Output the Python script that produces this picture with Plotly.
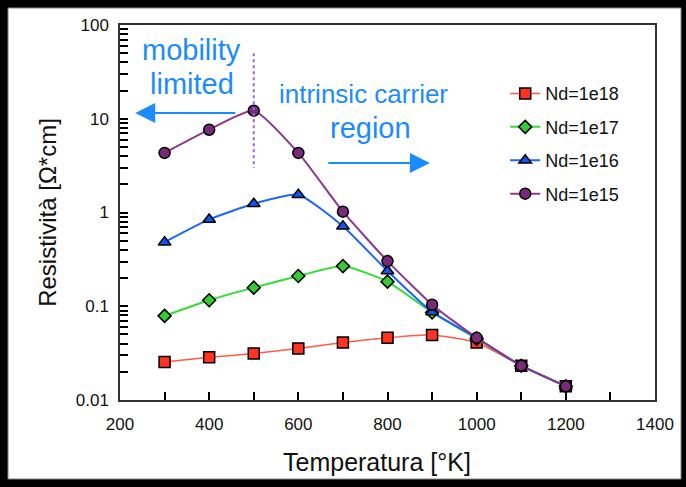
import math
import plotly.graph_objects as go

# Temperature (K) and resistivity (Ohm*cm) for four donor concentrations
temperature = [300, 400, 500, 600, 700, 800, 900, 1000, 1100, 1200]
rho_nd_1e18 = [0.0254, 0.0285, 0.0314, 0.0355, 0.041, 0.046, 0.0495, 0.041, 0.0232, 0.014]
rho_nd_1e17 = [0.079, 0.116, 0.158, 0.21, 0.268, 0.183, 0.0857, 0.045, 0.0232, 0.014]
rho_nd_1e16 = [0.483, 0.843, 1.24, 1.55, 0.715, 0.238, 0.087, 0.046, 0.0232, 0.014]
rho_nd_1e15 = [4.32, 7.64, 12.2, 4.32, 1.02, 0.303, 0.104, 0.046, 0.0232, 0.014]

series_names = ["Nd=1e18", "Nd=1e17", "Nd=1e16", "Nd=1e15"]
decade_labels = {0.01: "0.01", 0.1: "0.1", 1: "1", 10: "10", 100: "100"}
x_label_vals = [200, 400, 600, 800, 1000, 1200, 1400]

FONT = "Liberation Sans, Arial, sans-serif"
BLUE_TXT = "#1a8cff"

# log-axis ticks: every integer multiple inside each decade, labels on decades only
y_tick_vals, y_tick_text = [], []
for e in range(-2, 2):
    for m in range(1, 10):
        v = round(m * 10 ** e, 6)
        y_tick_vals.append(v)
        y_tick_text.append(decade_labels.get(v, ""))
y_tick_vals.append(100)
y_tick_text.append("100")

# linear ticks every 100 K, labelled every 200 K
x_tick_vals = list(range(200, 1401, 100))
x_tick_text = [str(v) if v in x_label_vals else "" for v in x_tick_vals]

styles = [
    dict(line=dict(color="#ff5a4a", width=1.5), marker=dict(symbol="square", size=11, color="#ff3322",
                                                            line=dict(color="black", width=1.5))),
    dict(line=dict(color="#33dd33", width=2), marker=dict(symbol="diamond", size=10, color="#33cc33",
                                                          line=dict(color="black", width=1.5))),
    dict(line=dict(color="#1a66ff", width=2), marker=dict(symbol="triangle-up", size=11, color="#1155ee",
                                                          line=dict(color="black", width=1.5))),
    dict(line=dict(color="#8a3a8a", width=2), marker=dict(symbol="circle", size=11, color="#7a2a7a",
                                                          line=dict(color="black", width=1.5))),
]

fig = go.Figure()
for i, (name, vals) in enumerate(zip(series_names, [rho_nd_1e18, rho_nd_1e17, rho_nd_1e16, rho_nd_1e15])):
    st = styles[i]
    fig.add_trace(go.Scatter(
        x=temperature, y=vals, name=name, mode="lines+markers",
        legendgroup=name,
        line=dict(color=st["line"]["color"], width=st["line"]["width"], shape="spline", smoothing=0.5),
        marker=st["marker"],
    ))

# frame around the whole figure
fig.add_shape(type="rect", xref="paper", yref="paper", x0=-0.2093, x1=1.0486, y0=-0.2107, y1=1.0453,
              fillcolor="white", line=dict(color="#888888", width=1), layer="below")

# boundary between mobility-limited and intrinsic regions
fig.add_shape(type="line", xref="x", yref="y", x0=500, x1=500, y0=10 ** 1.70, y1=10 ** 0.475,
              line=dict(color="#9966ee", width=2, dash="dot"))

annos = [
    dict(text="mobility", x=361, y=1.733, size=29),
    dict(text="limited", x=361, y=1.371, size=29),
    dict(text="intrinsic carrier", x=746, y=1.264, size=26),
    dict(text="region", x=761, y=0.901, size=29),
]
for a in annos:
    fig.add_annotation(x=a["x"], y=a["y"], xref="x", yref="y", text=a["text"], showarrow=False,
                       font=dict(family=FONT, size=a["size"], color=BLUE_TXT),
                       xanchor="center", yanchor="middle")

# direction arrows
fig.add_annotation(x=234, y=1.061, ax=462, ay=1.061, xref="x", yref="y", axref="x", ayref="y",
                   text="", showarrow=True, arrowhead=2, arrowsize=2.0, arrowwidth=2, arrowcolor=BLUE_TXT)
fig.add_annotation(x=895, y=0.528, ax=664, ay=0.528, xref="x", yref="y", axref="x", ayref="y",
                   text="", showarrow=True, arrowhead=2, arrowsize=2.0, arrowwidth=2, arrowcolor=BLUE_TXT)

# x-axis title, set slightly left of the plot centre
fig.add_annotation(x=0.48, y=-0.165, xref="paper", yref="paper", text="Temperatura [°K]", showarrow=False,
                   font=dict(family=FONT, size=25, color="#111111"), xanchor="center", yanchor="middle")

fig.update_layout(
    width=686, height=487,
    margin=dict(l=120, r=31, t=25, b=87, pad=0),
    paper_bgcolor="black", plot_bgcolor="white",
    font=dict(family=FONT, color="#111111"),
    showlegend=True,
    legend=dict(x=0.72, y=0.866, xanchor="left", yanchor="top", bgcolor="rgba(0,0,0,0)",
                font=dict(family=FONT, size=18, color="#111111"), tracegroupgap=7),
    xaxis=dict(range=[200, 1400], tickvals=x_tick_vals, ticktext=x_tick_text,
               ticks="inside", ticklen=8, tickcolor="black", tickwidth=2,
               showline=True, linecolor="#333", linewidth=1.5, mirror=True, showgrid=False, zeroline=False,
               tickfont=dict(size=17), ticklabelstandoff=8, layer="above traces"),
    yaxis=dict(type="log", range=[-2, 2], tickvals=y_tick_vals, ticktext=y_tick_text,
               ticks="inside", ticklen=8, tickcolor="black", tickwidth=2,
               showline=True, linecolor="#333", linewidth=1.5, mirror=True, showgrid=False, zeroline=False,
               tickfont=dict(size=17), ticklabelstandoff=6, layer="above traces",
               title=dict(text="Resistività [Ω*cm]", font=dict(size=24), standoff=12)),
)

fig.write_html("out.html")
